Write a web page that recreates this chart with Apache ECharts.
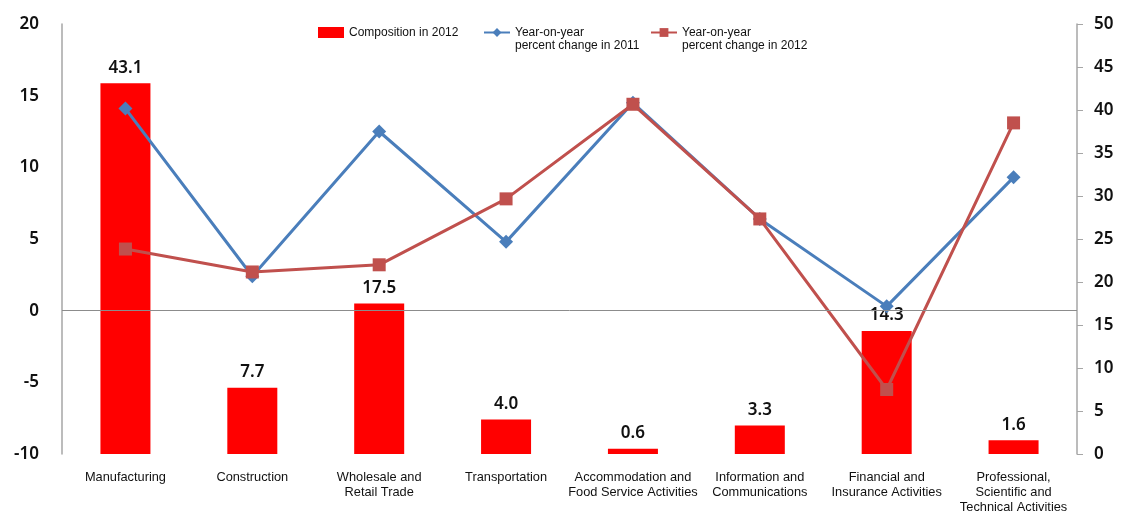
<!DOCTYPE html>
<html>
<head>
<meta charset="utf-8">
<script src="https://cdn.jsdelivr.net/npm/echarts@6/dist/echarts.min.js"></script>
<style>
  html, body { margin: 0; padding: 0; background: #fff; }
  #chart { width: 1121px; height: 513px; }
</style>
</head>
<body>
<div id="chart"></div>
<script>
// Industry categories (x axis)
const categories = [
  'Manufacturing',
  'Construction',
  'Wholesale and\nRetail Trade',
  'Transportation',
  'Accommodation and\nFood Service Activities',
  'Information and\nCommunications',
  'Financial and\nInsurance Activities',
  'Professional,\nScientific and\nTechnical Activities'
];

// Share of total, 2012 (right axis, %)
const composition2012 = [43.1, 7.7, 17.5, 4.0, 0.6, 3.3, 14.3, 1.6];

// Year-on-year percent change (left axis, %)
const yoy2011 = [14.1, 2.4, 12.5, 4.8, 14.5, 6.4, 0.3, 9.3];
const yoy2012 = [4.3, 2.7, 3.2, 7.8, 14.4, 6.4, -5.5, 13.1];

// Axis ranges and tick steps
const leftAxis = { min: -10, max: 20, interval: 5 };
const rightAxis = { min: 0, max: 50, interval: 5 };

const names = {
  bar: 'Composition in 2012',
  l2011: 'Year-on-year\npercent change in 2011',
  l2012: 'Year-on-year\npercent change in 2012'
};

const chart = echarts.init(document.getElementById('chart'), null, { renderer: 'canvas' });

const tickFont = { fontFamily: 'Noto Sans', fontWeight: 600, fontSize: 17, color: '#111' };
const sans = "'Liberation Sans', Arial, sans-serif";

const legendBase = {
  itemWidth: 26,
  itemHeight: 11,
  itemGap: 0,
  padding: 0,
  selectedMode: false,
  textStyle: { fontFamily: sans, fontSize: 12, color: '#111', lineHeight: 13 }
};

// two-line legend entries: a leading blank line keeps the first line level with the icon
const twoLine = name => '\n' + name;

chart.setOption({
  animation: false,
  backgroundColor: '#fff',
  grid: { left: 62, right: 44, top: 24, bottom: 59, containLabel: false, outerBoundsMode: 'none' },
  legend: [
    Object.assign({}, legendBase, { left: 318, top: 26, data: [{ name: names.bar, icon: 'rect' }] }),
    Object.assign({}, legendBase, { left: 483, top: 13, data: [names.l2011], formatter: twoLine }),
    Object.assign({}, legendBase, { left: 650, top: 13, data: [names.l2012], formatter: twoLine })
  ],
  xAxis: {
    type: 'category',
    data: categories,
    boundaryGap: true,
    axisLine: { show: false },
    axisTick: { show: false },
    axisLabel: {
      interval: 0,
      margin: 16,
      fontFamily: sans,
      fontSize: 12.8,
      lineHeight: 15,
      color: '#111'
    }
  },
  yAxis: [
    {
      type: 'value',
      position: 'left',
      min: leftAxis.min, max: leftAxis.max, interval: leftAxis.interval,
      axisLine: { show: true, lineStyle: { color: '#a6a6a6', width: 1.5 } },
      axisTick: { show: false },
      splitLine: { show: false },
      axisLabel: Object.assign({ margin: 23 }, tickFont)
    },
    {
      type: 'value',
      position: 'right',
      min: rightAxis.min, max: rightAxis.max, interval: rightAxis.interval,
      axisLine: { show: true, lineStyle: { color: '#a6a6a6', width: 1.5 } },
      axisTick: { show: true, length: 6, lineStyle: { color: '#a6a6a6' } },
      splitLine: { show: false },
      axisLabel: Object.assign({ margin: 17 }, tickFont)
    }
  ],
  series: [
    {
      // zero reference line for the percent-change axis
      name: 'zero',
      type: 'line',
      yAxisIndex: 0,
      data: [],
      z: 1,
      silent: true,
      markLine: {
        silent: true,
        symbol: 'none',
        label: { show: false },
        lineStyle: { color: '#8c8c8c', width: 1, type: 'solid' },
        data: [{ yAxis: 0 }]
      }
    },
    {
      name: names.bar,
      type: 'bar',
      yAxisIndex: 1,
      data: composition2012,
      barWidth: 50,
      z: 2,
      itemStyle: { color: '#ff0000' },
      label: {
        show: true,
        position: 'top',
        distance: 7,
        formatter: p => p.value.toFixed(1),
        fontFamily: 'Noto Sans',
        fontWeight: 600,
        fontSize: 17,
        color: '#111'
      }
    },
    {
      name: names.l2011,
      type: 'line',
      yAxisIndex: 0,
      data: yoy2011,
      z: 3,
      symbol: 'diamond',
      symbolSize: 14,
      showAllSymbol: true,
      lineStyle: { color: '#4a7ebb', width: 3 },
      itemStyle: { color: '#4a7ebb' }
    },
    {
      name: names.l2012,
      type: 'line',
      yAxisIndex: 0,
      data: yoy2012,
      z: 4,
      symbol: 'rect',
      symbolSize: 13,
      showAllSymbol: true,
      lineStyle: { color: '#c0504d', width: 3 },
      itemStyle: { color: '#c0504d' }
    }
  ]
});
</script>
</body>
</html>
